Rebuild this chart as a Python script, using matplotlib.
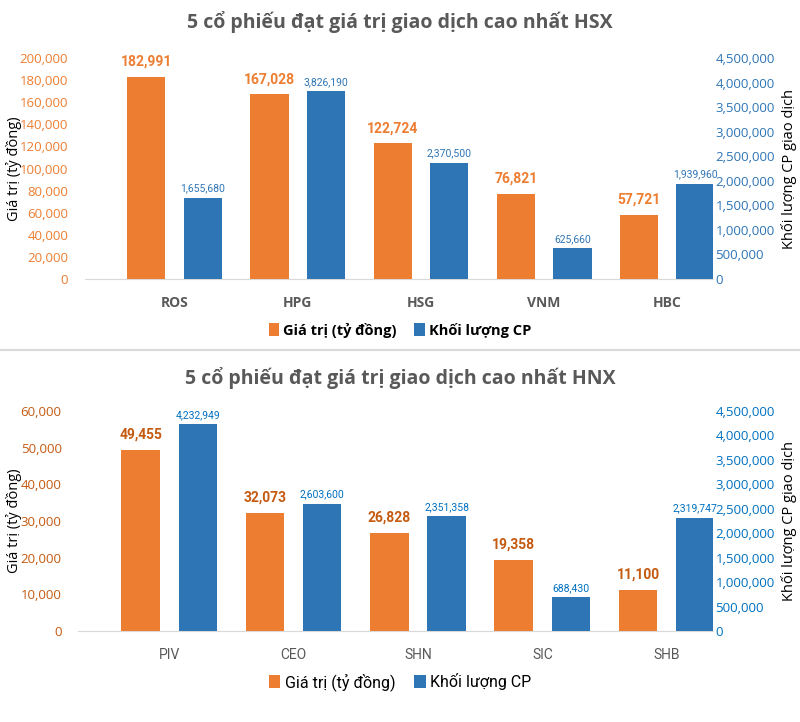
import matplotlib.pyplot as plt
import numpy as np
from matplotlib.ticker import FuncFormatter

# data
hsx_codes = ["ROS", "HPG", "HSG", "VNM", "HBC"]
hsx_value = [182991, 167028, 122724, 76821, 57721]
hsx_volume = [1655680, 3826190, 2370500, 625660, 1939960]

hnx_codes = ["PIV", "CEO", "SHN", "SIC", "SHB"]
hnx_value = [49455, 32073, 26828, 19358, 11100]
hnx_volume = [4232949, 2603600, 2351358, 688430, 2319747]

ORANGE = "#ED7D31"
BLUE = "#2E75B6"
GRAY = "#595959"
MAIN = ["Open Sans", "DejaVu Sans"]
NARROW = ["Roboto", "DejaVu Sans"]

fmt = FuncFormatter(lambda v, p: f"{int(v):,}")


def draw(rect, codes, value, volume, vmax, title, title_y, leg_y, lab_orange, lab_blue, narrow):
    ax = fig.add_axes(rect)
    ax2 = ax.twinx()
    x = np.arange(len(codes))
    w = 0.31
    b1 = ax.bar(x - 0.23, value, w, color=ORANGE, zorder=3)
    b2 = ax2.bar(x + 0.23, volume, w, color=BLUE, zorder=3)
    ax.set_xlim(-0.73, 4.37)
    ax.set_ylim(0, vmax)
    ax2.set_ylim(0, 4500000)
    ax.set_yticks(np.linspace(0, vmax, 11 if vmax == 200000 else 7))
    ax2.set_yticks(np.arange(0, 4500001, 500000))
    ax.yaxis.set_major_formatter(fmt)
    ax2.yaxis.set_major_formatter(fmt)
    for a in (ax, ax2):
        for s in a.spines.values():
            s.set_visible(False)
        a.tick_params(length=0)
    ax.spines["bottom"].set_visible(True)
    ax.spines["bottom"].set_color("#D9D9D9")
    ax.tick_params(axis="y", colors=lab_orange, labelsize=9.5, pad=12)
    ax2.tick_params(axis="y", colors=lab_blue, labelsize=9.5, pad=2)
    for t in ax.get_yticklabels() + ax2.get_yticklabels():
        t.set_family(MAIN)
    ax.set_xticks(x)
    ax.set_xticklabels(codes, color=GRAY, fontsize=10,
                       fontweight="bold" if not narrow else "normal",
                       family=NARROW if narrow else MAIN)
    ax.tick_params(axis="x", pad=12)
    mid = rect[1] + rect[3] / 2
    fig.text(14 / 800, mid, "Giá trị (tỷ đồng)", rotation=90, ha="center", va="center",
             fontsize=10.5, family=MAIN)
    fig.text(789 / 800, mid, "Khối lượng CP giao dịch", rotation=90, ha="center",
             va="center", fontsize=10.5, family=MAIN)
    for r, v in zip(b1, value):
        ax.annotate(f"{v:,}", (r.get_x() + r.get_width() / 2, v), xytext=(0, 6),
                    textcoords="offset points", ha="center", va="bottom",
                    fontsize=10, fontweight="bold", color=lab_orange, family=NARROW)
    for r, v in zip(b2, volume):
        ax2.annotate(f"{v:,}", (r.get_x() + r.get_width() / 2, v), xytext=(0, 3),
                     textcoords="offset points", ha="center", va="bottom",
                     fontsize=7.5, color=lab_blue, family=NARROW)
    fig.text(0.5, title_y, title, ha="center", va="center", fontsize=14,
             fontweight="bold", color=GRAY, family=MAIN)
    fig.legend([b1, b2], ["Giá trị (tỷ đồng)", "Khối lượng CP"], loc="center",
               bbox_to_anchor=(0.5, leg_y), ncol=2, frameon=False,
               handlelength=0.7, handleheight=0.9, handletextpad=0.3, columnspacing=1.2,
               prop={"family": NARROW if narrow else MAIN, "size": 11.5 if narrow else 10.5,
                     "weight": "normal" if narrow else "bold"})


fig = plt.figure(figsize=(8, 7.22), dpi=100)

draw([0.106, 0.6136, 0.785, 0.306], hsx_codes, hsx_value, hsx_volume, 200000,
     "5 cổ phiếu đạt giá trị giao dịch cao nhất HSX", 1 - 22 / 722, 1 - 330 / 722,
     ORANGE, BLUE, False)
draw([0.098, 0.126, 0.793, 0.305], hnx_codes, hnx_value, hnx_volume, 60000,
     "5 cổ phiếu đạt giá trị giao dịch cao nhất HNX", 1 - 378 / 722, 1 - 682 / 722,
     "#C55A11", "#0070C0", True)

fig.add_artist(plt.Line2D([0, 1], [1 - 350 / 722, 1 - 350 / 722], color="#D9D9D9", lw=1.5))

fig.savefig("out.png", dpi=100)
